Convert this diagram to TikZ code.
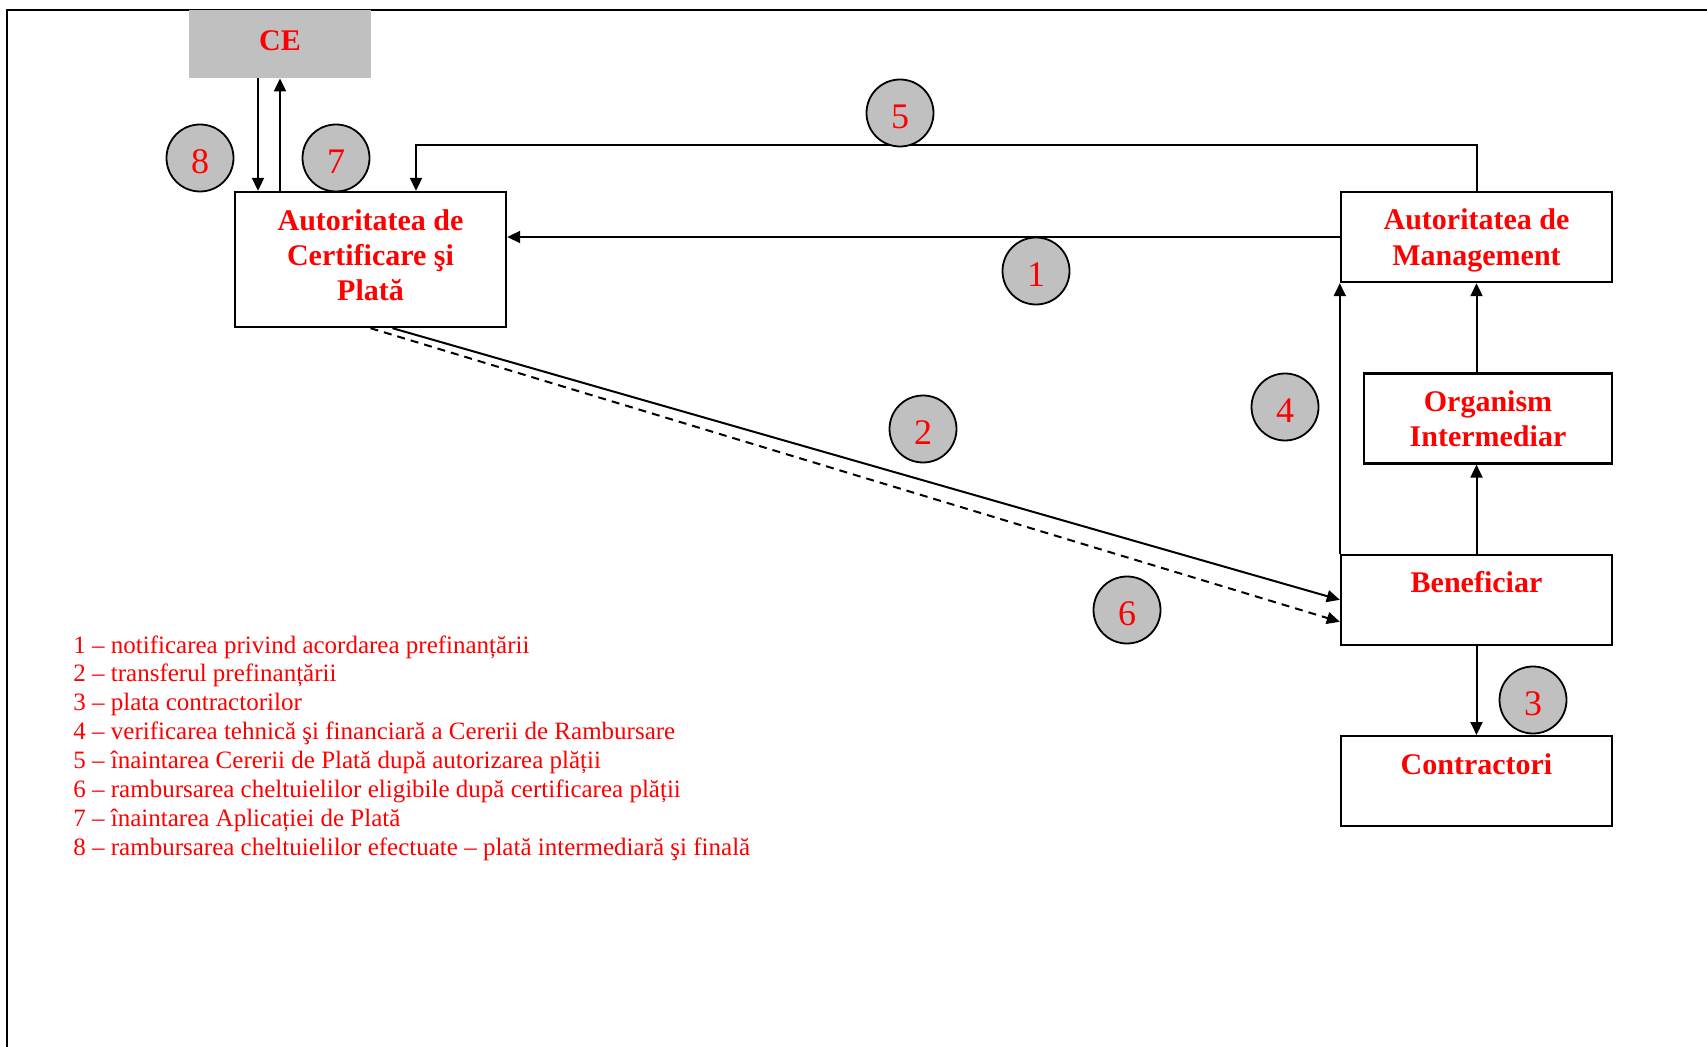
\documentclass[tikz,border=0pt]{standalone}
\usepackage{fontspec}
\setmainfont{Liberation Serif}
\usetikzlibrary{positioning, arrows.meta}

\definecolor{flowred}{HTML}{FF0000}
\definecolor{silver}{HTML}{C0C0C0}

\begin{document}
\begin{tikzpicture}[
    x=0.5pt, y=-0.5pt,
    box/.style={rectangle, draw, line width=1.2pt, align=center, text=flowred, font=\fontsize{15}{17.6}\selectfont\bfseries, inner sep=2pt, minimum width=135.5pt, minimum height=45pt},
    ce/.style={rectangle, fill=silver, text=flowred, font=\fontsize{15}{18}\selectfont\bfseries, minimum width=91pt, minimum height=34pt, text depth=3.3pt},
    num/.style={circle, draw, line width=0.9pt, fill=silver, text=flowred, font=\fontsize{18}{20}\selectfont, minimum size=33.5pt, inner sep=0pt, text height=15.4pt, text depth=0pt},
    legend/.style={align=left, text=flowred, font=\fontsize{12.5}{14.45}\selectfont, inner sep=0pt},
    arrow/.style={-{Triangle[length=6.5pt, width=6pt]}, line width=1pt}
]
\useasboundingbox (0,0) rectangle (1707,1047);

% page frame
\draw[line width=1.2pt] (1707,10) -- (7,10) -- (7,1047);

% Left side
\node[ce] (ce) at (280,44) {CE};
\node[box, minimum height=67.5pt, text depth=4.4pt] (acp) at (370.5,259.5) {Autoritatea de\\Certificare şi\\Plată};

% Right column
\node[box, text depth=0pt] (am) at (1476.5,237) {Autoritatea de\\Management};
\node[box, minimum width=124pt, below left=44.5pt and 0pt of am.south east] (oi) {Organism\\Intermediar};
\node[box, below left=44.5pt and 0pt of oi.south east] (ben) {Beneficiar\\\mbox{}};
\node[box, below=44.5pt of ben] (con) {Contractori\\\mbox{}};

% Arrows
\draw[arrow] ([xshift=-11pt]ce.south) -- ([xshift=-11pt]ce.south |- acp.north);
\draw[arrow] (ce.south |- acp.north) -- (ce.south);
\draw[arrow] (am.north) -- ++(0,-46) -| ([xshift=22.75pt]acp.north);
\draw[arrow] (am.west) -- (am.west -| acp.east);
\draw[arrow] ([xshift=11pt]acp.south) -- (ben.west);
\draw[arrow, dashed, dash pattern=on 4pt off 3pt] (acp.south) -- ([yshift=-11pt]ben.west);
\draw[arrow] (ben.north west) -- (am.south west);
\draw[arrow] (ben) -- (ben |- oi.south);
\draw[arrow] (am |- oi.north) -- (am.south);
\draw[arrow] (ben) -- (con);

% Step numbers
\node[num] (n1) at (1036,271) {1};
\node[num] (n2) at (923,429) {2};
\node[num] (n3) at (1533,700) {3};
\node[num] (n4) at (1285,407) {4};
\node[num] (n5) at (900,113) {5};
\node[num] (n6) at (1127,610) {6};
\node[num] (n7) at (336,158) {7};
\node[num] (n8) at (200,158) {8};

% Legend
\node[legend, anchor=north west] (legend) at (73,635) {1 – notificarea privind acordarea prefinanțării\\
2 – transferul prefinanțării\\
3 – plata contractorilor\\
4 – verificarea tehnică şi financiară a Cererii de Rambursare\\
5 – înaintarea Cererii de Plată după autorizarea plății\\
6 – rambursarea cheltuielilor eligibile după certificarea plății\\
7 – înaintarea Aplicației de Plată\\
8 – rambursarea cheltuielilor efectuate – plată intermediară şi finală};

\end{tikzpicture}
\end{document}
